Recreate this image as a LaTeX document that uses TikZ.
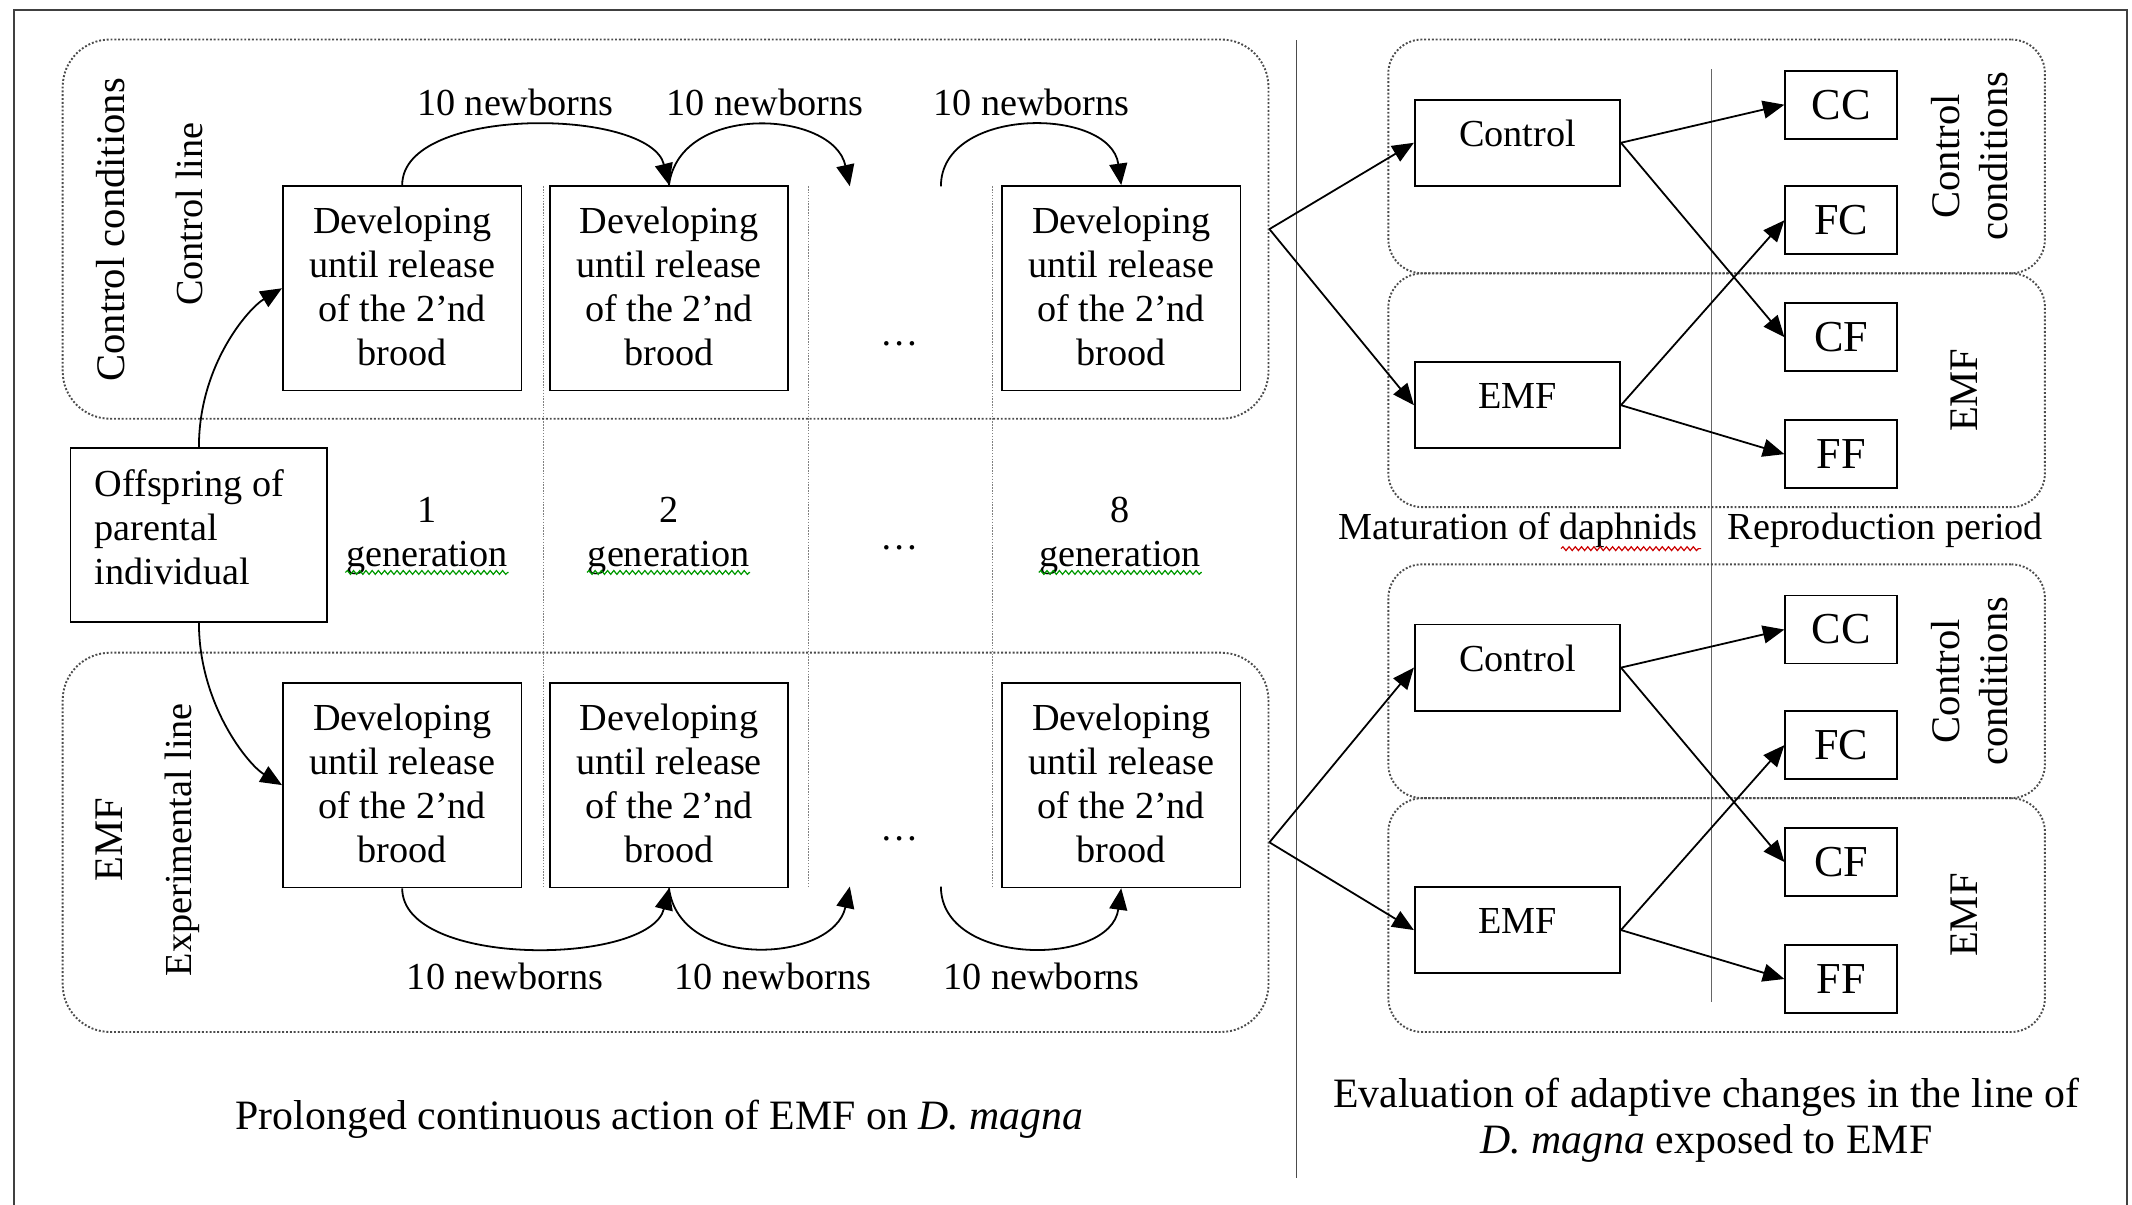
\documentclass[tikz,border=0pt]{standalone}
\usepackage{fontspec}
\setmainfont{Liberation Serif}
\usetikzlibrary{arrows.meta, decorations.pathmorphing}

\newcommand{\devtxt}{Developing\\until release\\of the 2'nd\\brood}

\begin{document}
\begin{tikzpicture}[x=0.02cm,y=-0.02cm,>={Triangle[length=9pt,width=7.5pt]},line width=0.75pt,
	txt/.style={font=\fontsize{16}{18.4}\selectfont, align=center},
	box/.style={txt, draw, inner sep=0pt},
	dev/.style={box, minimum width=3.51cm, minimum height=3.01cm, text depth=0.06cm},
	mat/.style={box, minimum width=3.02cm, minimum height=1.27cm, text depth=0.28cm},
	rep/.style={box, minimum width=1.64cm, minimum height=1cm, font=\fontsize{18.5}{20}\selectfont},
	grp/.style={draw=black!70, line width=0.8pt, dash pattern=on 0.8pt off 0.8pt, rounded corners=0.7cm, minimum width=17.74cm, minimum height=5.58cm},
	rgrp/.style={grp, rounded corners=0.5cm, minimum width=9.66cm, minimum height=3.44cm},
	gen/.style={draw=gray, line width=0.4pt, dash pattern=on 0.6pt off 0.6pt},
	lbl/.style={txt, rotate=90},
	big/.style={font=\fontsize{17}{20.4}\selectfont},
	squig/.style={line width=0.5pt, decorate, decoration={snake, amplitude=0.8pt, segment length=2.6pt}}]
	\useasboundingbox (0,0) rectangle (1568,886);
	\clip (0,0) rectangle (1568,886);
	\draw[black!75, line width=0.8pt] (10,900) -- (10,7.5) -- (1564,7.5) -- (1564,900);
	\draw[gray!60!black, line width=0.8pt] (953.5,29.5) -- (953.5,866);
	\draw[gray!80!black, line width=0.5pt] (1259,51) -- (1259,737);
	\foreach \x in {399.4,594.5,729.8} \draw[gen] (\x,137) -- (\x,652);

	\node[grp] (grpT) at (489.5,168.5) {};
	\node[grp] (grpB) at (489.5,619.5) {};
	\node[lbl, big] (ccond) at (81,169) {Control conditions};
	\node[lbl] (cline) at (139,157.5) {Control line};
	\node[lbl, big] (lemf) at (80.5,617.5) {EMF};
	\node[lbl] (eline) at (134,617.5) {Experimental line};

	\node[dev] (d1) at (295.8,212) {\devtxt};
	\node[dev] (d2) at (492,212) {\devtxt};
	\node[dev] (d3) at (824.6,212) {\devtxt};
	\node[dev] (d4) at (295.8,577.4) {\devtxt};
	\node[dev] (d5) at (492,577.4) {\devtxt};
	\node[dev] (d6) at (824.6,577.4) {\devtxt};
	\node[box, minimum width=3.78cm, minimum height=2.56cm] (off) at (146.3,393.3) {};
	\node[txt, align=left, anchor=west, inner sep=0pt] (offt) at (69,388) {Offspring of\\parental\\individual};

	\node[txt, inner sep=0pt] (g1) at (314,394) {1\\generation};
	\node[txt, inner sep=0pt] (g2) at (491.7,394) {2\\generation};
	\node[txt, inner sep=0pt] (g8) at (824,394) {8\\generation};
	\foreach \g in {g1,g2,g8} \draw[squig, green!60!black] (\g.west |- 0,421) -- (\g.east |- 0,421);
	\node[txt] (dt) at (661.6,253) {\dots};
	\node[txt] (dm) at (661.6,402.7) {\dots};
	\node[txt] (db) at (661.6,617) {\dots};

	\coordinate (t1) at (625,137);
	\coordinate (t2) at (692,137);
	\coordinate (b1) at (625,652);
	\coordinate (b2) at (692,652);
	\draw[->] (d1.north) .. controls +(0,-59) and +(-14,-57) .. (d2.north);
	\draw[->] (d2.north) .. controls +(8,-61) and +(-12,-56) .. (t1);
	\draw[->] (t2) .. controls +(0,-59) and +(-8,-58) .. (d3.north);
	\draw[->] (d4.south) .. controls +(0,59) and +(-14,57) .. (d5.south);
	\draw[->] (d5.south) .. controls +(8,61) and +(-12,56) .. (b1);
	\draw[->] (b2) .. controls +(0,59) and +(-8,58) .. (d6.south);
	\node[txt] (n1) at (379,75) {10 newborns};
	\node[txt] (n2) at (562.5,75) {10 newborns};
	\node[txt] (n3) at (758.6,75) {10 newborns};
	\node[txt] (n4) at (371.5,718) {10 newborns};
	\node[txt] (n5) at (568.5,718) {10 newborns};
	\node[txt] (n6) at (766,718) {10 newborns};

	\draw[->] (off.north) .. controls +(0,-60) and +(-25,15) .. (d1.west);
	\draw[->] (off.south) .. controls +(0,60) and +(-25,-15) .. (d4.west);

	\foreach \i/\dy in {1/0,2/386}{
		\node[rgrp] (rc\i) at (1262.5,115+\dy) {};
		\node[rgrp] (re\i) at (1262.5,287+\dy) {};
		\node[mat] (ctl\i) at (1116,105+\dy) {Control};
		\node[mat] (emf\i) at (1116,298+\dy) {EMF};
		\node[rep] (cc\i) at (1354,77+\dy) {CC};
		\node[rep] (fc\i) at (1354,162+\dy) {FC};
		\node[rep] (cf\i) at (1354,248+\dy) {CF};
		\node[rep] (ff\i) at (1354,334+\dy) {FF};
		\node[lbl, big] (cond\i) at (1448.5,115+\dy) {Control\\conditions};
		\node[lbl, big] (emfl\i) at (1444.5,287+\dy) {EMF};
		\draw[->] (ctl\i.east) -- (cc\i.west);
		\draw[->] (ctl\i.east) -- (cf\i.west);
		\draw[->] (emf\i.east) -- (fc\i.west);
		\draw[->] (emf\i.east) -- (ff\i.west);
	}
	\draw[->] (grpT.east) -- (ctl1.west);
	\draw[->] (grpT.east) -- (emf1.west);
	\draw[->] (grpB.east) -- (ctl2.west);
	\draw[->] (grpB.east) -- (emf2.west);

	\node[txt] (matl) at (1116.5,389.7) {Maturation of daphnids};
	\node[txt] (repl) at (1386.5,389.7) {Reproduction period};
	\draw[squig, red!80!black] (1148,403.5) -- (1251,403.5);

	\node[txt, font=\fontsize{17.5}{19.3}\selectfont] (capL) at (485,823.5) {Prolonged continuous action of EMF on \textit{D. magna}};
	\node[txt, font=\fontsize{17.5}{19.3}\selectfont] (capR) at (1255,823.8) {Evaluation of adaptive changes in the line of\\\textit{D. magna} exposed to EMF};
\end{tikzpicture}
\end{document}
